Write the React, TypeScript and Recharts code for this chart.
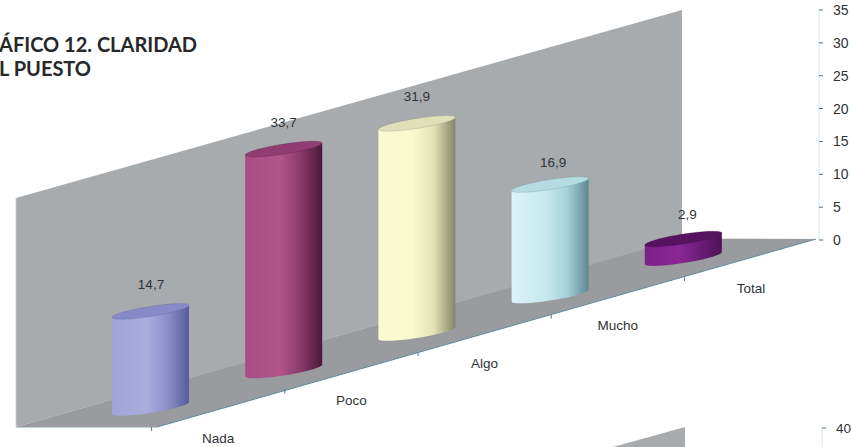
import React from 'react';
import { BarChart, Bar, XAxis, YAxis, LabelList } from 'recharts';

// Survey answers, in percent
const categories = ['Nada', 'Poco', 'Algo', 'Mucho', 'Total'];
const percentages = [14.7, 33.7, 31.9, 16.9, 2.9];
const axisTicks = [0, 5, 10, 15, 20, 25, 30, 35];

const rows = categories.map((name, i) => ({ name, value: percentages[i] }));

// Cylinder shading: left, middle, shoulder, right edge, cap
const ramps = [
  ['#a0a4d8', '#aaacdc', '#8c90c8', '#565c9a', '#868ac6'],
  ['#a84c86', '#b2558b', '#8a3a6c', '#4a183a', '#8f3d73'],
  ['#fbfbd2', '#f9f9cd', '#e2e2b4', '#85856a', '#dfe0ba'],
  ['#dcf3f7', '#c6e8ef', '#a6d2d9', '#5c8890', '#b4dce2'],
  ['#7c2086', '#8a2795', '#6c1c78', '#4c1254', '#561460'],
];

// Oblique projection of the floor: every bar stands on a rising line
const PLOT_BOTTOM = 240;
const FLOOR_START_X = 150.5;
const FLOOR_START_Y = 408;
const FLOOR_SLOPE = 0.2814;
const floorLift = (cx: number) => FLOOR_START_Y - FLOOR_SLOPE * (cx - FLOOR_START_X) - PLOT_BOTTOM;

const CAP_SHEAR = 0.156;
const CAP_DEPTH = 5;

const sweep = (cx: number, cy: number, rx: number, from: number, to: number, steps = 36) => {
  const pts: string[] = [];
  for (let k = 0; k <= steps; k++) {
    const t = from + ((to - from) * k) / steps;
    const px = cx + rx * Math.cos(t);
    const py = cy - CAP_SHEAR * rx * Math.cos(t) - CAP_DEPTH * Math.sin(t);
    pts.push(`${px.toFixed(2)} ${py.toFixed(2)}`);
  }
  return pts;
};

const Cylinder = (props: any) => {
  const { x, y, width, height, index } = props;
  const rx = width / 2;
  const cx = x + rx;
  const lift = floorLift(cx);
  const topY = y + lift;
  const baseY = y + height + lift;
  const base = sweep(cx, baseY, rx, Math.PI, 2 * Math.PI);
  const capTop = sweep(cx, topY, rx, 0, 2 * Math.PI, 72);
  const leftTop = `${cx - rx} ${topY + CAP_SHEAR * rx}`;
  const rightTop = `${cx + rx} ${topY - CAP_SHEAR * rx}`;
  const body = `M${leftTop} L${base.join(' L')} L${rightTop} Z`;
  return (
    <g>
      <path d={body} fill={`url(#cyl${index})`} />
      <path d={`M${capTop.join(' L')} Z`} fill={ramps[index][4]} stroke={ramps[index][3]} strokeOpacity={0.45} strokeWidth={0.6} />
    </g>
  );
};

const labelNudge = [
  [0.5, -26],
  [0, -26],
  [0, -26],
  [3, -21],
  [4, -24],
];

const ValueLabel = (props: any) => {
  const { x, y, width, value, index } = props;
  const cx = x + width / 2;
  const [nx, ny] = labelNudge[index];
  return (
    <text
      x={cx + nx}
      y={y + floorLift(cx) + ny}
      textAnchor="middle"
      dominantBaseline="middle"
      fontFamily="'Liberation Sans', Arial, sans-serif"
      fontSize={13.5}
      fill="#2f3336"
    >
      {String(value).replace('.', ',')}
    </text>
  );
};

const CategoryTick = (props: any) => {
  const { x, payload } = props;
  const floorY = PLOT_BOTTOM + floorLift(x);
  return (
    <g>
      <line x1={x + 1} x2={x + 1} y1={floorY + 19} y2={floorY + 23} stroke="#4f7385" strokeWidth={1} />
      <text
        x={x + 67.5}
        y={floorY + 31}
        textAnchor="middle"
        dominantBaseline="middle"
        fontFamily="'Liberation Sans', Arial, sans-serif"
        fontSize={13.5}
        fill="#2f3336"
      >
        {payload.value}
      </text>
    </g>
  );
};

export default function App() {
  return (
    <div style={{ position: 'fixed', left: 0, top: 0, width: 852, height: 447, background: '#fff' }}>
      <BarChart
        width={852}
        height={447}
        data={rows}
        margin={{ top: 10, right: 0, bottom: 0, left: 84 }}
        barCategoryGap={0}
      >
        <defs>
          {ramps.map((r, i) => (
            <linearGradient key={i} id={`cyl${i}`} x1="0" y1="0" x2="1" y2="0">
              <stop offset="0" stopColor={r[0]} />
              <stop offset="0.45" stopColor={r[1]} />
              <stop offset="0.72" stopColor={r[2]} />
              <stop offset="1" stopColor={r[3]} />
            </linearGradient>
          ))}
        </defs>

        {/* back wall and floor of the 3D box */}
        <polygon points="16,198 682,10 682,239 16,427" fill="#a8abae" />
        <polygon points="16,427 157,427 816,239 682,238.5" fill="#999b9e" />
        <line x1={157} y1={427} x2={816} y2={239} stroke="#5f8a9a" strokeWidth={1} />
        <line x1={16} y1={427.5} x2={157} y2={427.5} stroke="#c3d4dc" strokeWidth={1} />
        <line x1={16} y1={198} x2={16} y2={427} stroke="#c3d4dc" strokeWidth={0.8} />

        <XAxis
          dataKey="name"
          height={207}
          axisLine={false}
          tickLine={false}
          interval={0}
          padding={{ left: 0, right: 69 }}
          tick={<CategoryTick />}
        />
        <YAxis
          orientation="right"
          width={33}
          domain={[0, 35]}
          ticks={axisTicks}
          interval={0}
          axisLine={{ stroke: '#d6e8f0' }}
          tickLine={{ stroke: '#4f6f80' }}
          tickSize={4}
          tickMargin={10}
          tick={{ fontFamily: "'Liberation Sans', Arial, sans-serif", fontSize: 14, fill: '#2f3336', textAnchor: 'start' }}
        />
        <Bar dataKey="value" barSize={77} shape={<Cylinder />} isAnimationActive={false}>
          <LabelList dataKey="value" content={<ValueLabel />} />
        </Bar>

        {/* page title, cut by the left edge */}
        <text x={-1} y={52} fontFamily="Lato, sans-serif" fontWeight={700} fontSize={20} fill="#26282a">
          ÁFICO 12. CLARIDAD
        </text>
        <text x={-1} y={76} fontFamily="Lato, sans-serif" fontWeight={700} fontSize={20} fill="#26282a">
          L PUESTO
        </text>

        {/* top of the next chart on the page */}
        <polygon points="613,447 685,427 685,447" fill="#a8abae" />
        <line x1={822} y1={428} x2={822} y2={447} stroke="#d6e8f0" />
        <line x1={822} y1={428} x2={826} y2={428} stroke="#4f6f80" />
        <text x={836} y={433} fontFamily="'Liberation Sans', Arial, sans-serif" fontSize={13.5} fill="#2f3336">
          40
        </text>
      </BarChart>
    </div>
  );
}
